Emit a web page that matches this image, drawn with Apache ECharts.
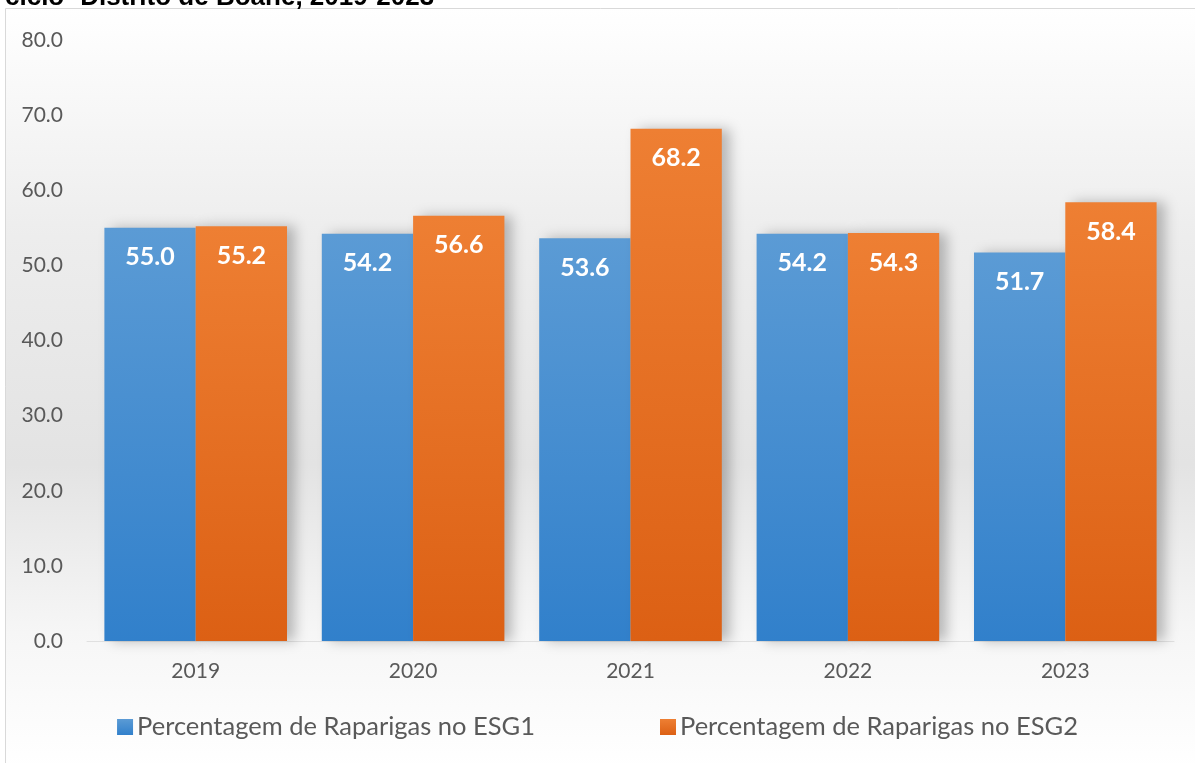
<!DOCTYPE html>
<html>
<head>
<meta charset="utf-8">
<script src="https://cdn.jsdelivr.net/npm/echarts@6/dist/echarts.min.js"></script>
<style>
  html, body { margin: 0; padding: 0; background: #fff; }
  #chart { width: 1195px; height: 763px; }
</style>
</head>
<body>
<div id="chart"></div>
<script>
const years = ['2019', '2020', '2021', '2022', '2023']
const esg1 = [55.0, 54.2, 53.6, 54.2, 51.7]
const esg2 = [55.2, 56.6, 68.2, 54.3, 58.4]
const seriesNames = ['Percentagem de Raparigas no ESG1', 'Percentagem de Raparigas no ESG2']
const titleText = 'ciclo- Distrito de Boane, 2019-2023'

const chart = echarts.init(document.getElementById('chart'))

const blue = new echarts.graphic.LinearGradient(0, 0, 0, 1, [
  { offset: 0, color: '#5b9bd5' },
  { offset: 1, color: '#3180cb' }
])
const orange = new echarts.graphic.LinearGradient(0, 0, 0, 1, [
  { offset: 0, color: '#ee7f33' },
  { offset: 1, color: '#dc6014' }
])

const labelStyle = {
  show: true,
  position: 'insideTop',
  distance: 17,
  color: '#fff',
  fontSize: 25,
  fontWeight: 'bold',
  fontFamily: 'Lato',
  formatter: p => p.value.toFixed(1)
}

const option = {
  backgroundColor: '#fff',
  title: {
    text: titleText,
    left: 0,
    top: -20,
    textStyle: { fontFamily: 'Liberation Sans', fontWeight: 'bold', fontSize: 26, color: '#000' }
  },
  graphic: [
    {
      type: 'rect',
      z: -10,
      silent: true,
      shape: { x: 5.5, y: 8.5, width: 1200, height: 760 },
      style: {
        stroke: '#d9d9d9',
        lineWidth: 1,
        fill: new echarts.graphic.LinearGradient(0, 0, 0, 1, [
          { offset: 0, color: '#ffffff' },
          { offset: 0.3, color: '#ededed' },
          { offset: 0.6, color: '#e3e3e3' },
          { offset: 0.82, color: '#f6f6f6' },
          { offset: 1, color: '#ffffff' }
        ])
      }
    }
  ],
  legend: {
    bottom: 18,
    left: 'center',
    itemWidth: 16,
    itemHeight: 16,
    itemGap: 125,
    icon: 'rect',
    textStyle: { fontFamily: 'Lato', fontSize: 25.5, color: '#595959', padding: [0, 0, 0, -1] },
    data: seriesNames
  },
  grid: { left: 87, right: 21, top: 40, bottom: 122 },
  xAxis: {
    type: 'category',
    data: years,
    axisLine: { show: true, lineStyle: { color: '#e0e0e0' } },
    axisTick: { show: false },
    axisLabel: { color: '#595959', fontFamily: 'Lato', fontSize: 21, margin: 20 }
  },
  yAxis: {
    type: 'value',
    min: 0,
    max: 80,
    interval: 10,
    axisLine: { show: false },
    axisTick: { show: false },
    splitLine: { show: false },
    axisLabel: {
      color: '#595959',
      fontFamily: 'Lato',
      fontSize: 21,
      margin: 24,
      formatter: v => v.toFixed(1)
    }
  },
  series: [
    {
      name: seriesNames[0],
      type: 'bar',
      data: esg1,
      barWidth: '42%',
      barGap: '0%',
      itemStyle: { color: blue, shadowColor: 'rgba(0,0,0,0.25)', shadowBlur: 12, shadowOffsetX: 8 },
      label: labelStyle
    },
    {
      name: seriesNames[1],
      type: 'bar',
      data: esg2,
      barWidth: '42%',
      itemStyle: { color: orange, shadowColor: 'rgba(0,0,0,0.25)', shadowBlur: 12, shadowOffsetX: 8 },
      label: labelStyle
    }
  ]
}

chart.setOption(option)
</script>
</body>
</html>
